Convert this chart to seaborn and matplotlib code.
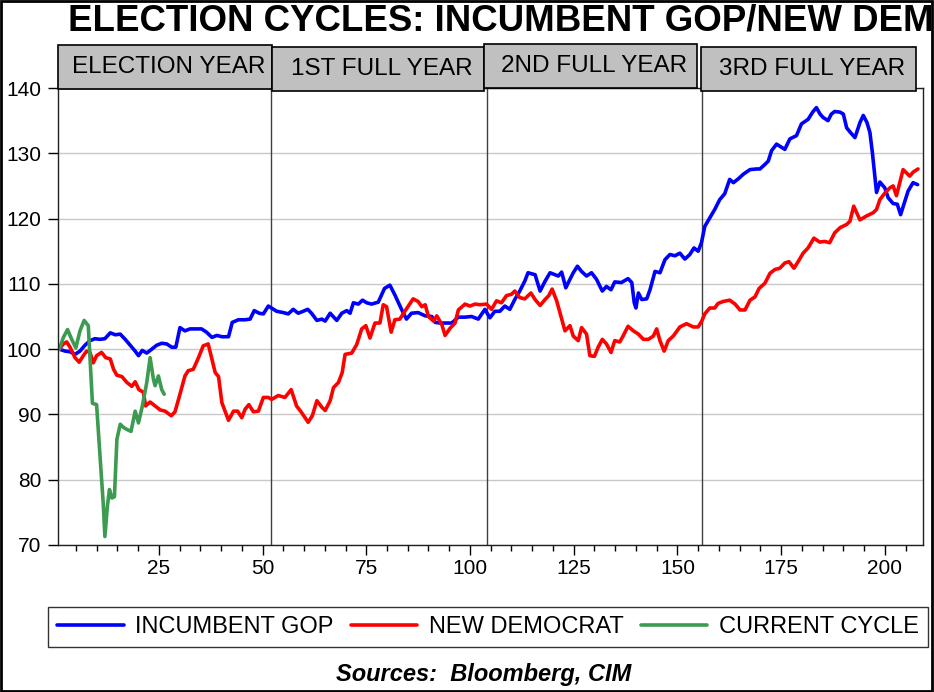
import pandas as pd
import seaborn as sns
import matplotlib.pyplot as plt
from matplotlib.patches import Rectangle
from matplotlib.ticker import MultipleLocator

# weeks into the cycle (x) and index level (y)
gop_x = [1, 2.4, 3.6, 4.8, 6, 7.2, 8.4, 9.6, 10.8, 12, 13.3, 14.5, 15.7, 16.9, 18.1, 19.3, 20.1, 21, 22.1,
         23.3, 24.5, 25.7, 26.9, 28.1, 29.1, 30.1, 31.3, 32.5, 33.7, 35.3, 36.5, 37.8, 39, 40.2, 41.8, 42.7,
         44.2, 45.8, 47, 48, 49.2, 50.2, 51.4, 53.4, 55, 56.2, 57.4, 58.6, 59.8, 60.9, 61.8, 63.1, 64.3,
         65.1, 66.3, 67.9, 69.1, 70.3, 71.1, 71.9, 73.1, 74.1, 75.1, 76.3, 77.9, 79.4, 80.7, 81.9, 83.5,
         84.7, 85.9, 87.5, 89.2, 90.8, 91.6, 92.8, 94.4, 95.6, 97.2, 98.8, 100.4, 102, 103.6, 104.8, 106,
         107.2, 108.4, 109.6, 110.8, 112, 113.2, 114, 115.7, 116.9, 118.1, 119.3, 120.5, 121.3, 122.1,
         123.1, 124.1, 124.9, 125.9, 126.9, 128.1, 129.3, 130.5, 131.9, 132.9, 134, 134.9, 136.5, 138.1,
         139, 139.6, 140, 140.6, 141.4, 142.6, 143.4, 144.6, 145.8, 147, 148.2, 149.4, 150.6, 151.8, 153,
         154, 155, 155.8, 156.6, 157.8, 159, 160.2, 161.4, 162.6, 163.5, 164.7, 165.9, 167.5, 169.1,
         169.9, 171.1, 171.9, 172.7, 173.9, 175.9, 177.1, 178.7, 179.9, 181.5, 182.6, 183.5, 184.4,
         185.1, 186.3, 187.1, 187.9, 189.2, 190, 190.8, 191.7, 192.8, 194, 194.8, 195.7, 196.4, 197,
         197.6, 198, 198.8, 200, 200.8, 202, 203, 203.8, 204.6, 205.6, 206.8, 207.9]
gop_y = [100, 99.7, 99.6, 99.2, 99.7, 100.6, 101.3, 101.6, 101.5, 101.6, 102.5, 102.2, 102.3, 101.5, 100.6,
         99.7, 99, 99.8, 99.4, 100, 100.6, 100.9, 100.8, 100.3, 100.3, 103.3, 102.8, 103.1, 103.1, 103.1,
         102.6, 101.8, 102.1, 101.9, 101.9, 104.1, 104.5, 104.5, 104.6, 105.9, 105.5, 105.4, 106.6, 105.8,
         105.6, 105.4, 106.1, 105.5, 105.8, 106.1, 105.5, 104.4, 104.6, 104.3, 105.5, 104.4, 105.5, 105.9,
         105.5, 107.1, 106.9, 107.5, 107.1, 106.9, 107.2, 109.3, 109.8, 108.3, 106.1, 104.6, 105.5, 105.6,
         105.1, 105, 104.1, 104, 104, 104, 104.9, 104.9, 105, 104.6, 106.1, 104.8, 105.8, 105.8, 106.6,
         106.1, 107.6, 108.9, 110.4, 111.7, 111.4, 108.9, 110.4, 111.7, 111.4, 111.2, 111.8, 109.4, 110.7,
         111.7, 112.7, 111.9, 111.2, 111.7, 110.7, 108.9, 109.6, 109.1, 110.3, 110.2, 110.8, 110.2, 107.1,
         106.3, 108.6, 107.6, 107.7, 109.1, 111.9, 111.7, 113.7, 114.5, 114.3, 114.7, 113.8, 114.5, 115.5,
         115, 116.3, 118.8, 120.1, 121.4, 122.9, 123.8, 126, 125.5, 126.1, 126.8, 127.5, 127.6, 127.6,
         128.3, 128.8, 130.4, 131.4, 130.6, 132.2, 132.7, 134.5, 135.2, 136.3, 137, 136, 135.5, 135,
         136, 136.4, 136.3, 136, 133.9, 133.2, 132.4, 134.7, 135.8, 134.7, 133.2, 130.1, 126.5, 124,
         125.6, 124.7, 123.2, 122.3, 122.2, 120.6, 122.2, 124.2, 125.5, 125.2]

dem_x = [1, 2, 2.8, 3.6, 4.8, 5.8, 6.8, 7.6, 8.4, 9.2, 10, 11.2, 12.2, 13.3, 14.1, 14.9, 16.1, 17.3, 18.5,
         19.3, 20.2, 21.3, 21.8, 22.9, 24.1, 25.3, 26.5, 28, 28.9, 30.1, 31.3, 32.1, 33.3, 34.5, 35.7, 36.9,
         37.8, 38.6, 39.4, 40.2, 41.8, 43, 44, 45, 45.8, 46.7, 47.8, 49, 50.2, 51.4, 52.2, 53.8, 55.4, 56.9,
         58.2, 59.4, 61, 62, 63.1, 64.3, 65.1, 66.3, 67.1, 68.3, 69.2, 69.9, 71.5, 72.7, 73.9, 74.9, 75.9,
         77.1, 78.3, 79.1, 79.9, 81, 81.9, 83.1, 84.3, 86.3, 87.5, 88.4, 89.2, 90, 91.2, 92, 93.2, 94, 95.2,
         96.4, 97.2, 98.8, 100, 101.2, 102.4, 104, 105.2, 106.4, 107.6, 108.8, 110, 110.8, 112, 113.2,
         114.7, 115.7, 116.9, 118.1, 119, 119.8, 120.9, 121.9, 122.9, 124.1, 124.9, 126.1, 126.9, 128.1,
         128.9, 130, 130.9, 131.9, 132.9, 134, 134.9, 136.1, 136.9, 138.1, 139.4, 140.6, 141.8, 143, 144.2,
         145, 145.8, 146.8, 147.8, 149, 150.6, 152.2, 153.8, 155, 155.8, 156.6, 157.8, 159, 159.8, 161,
         162.6, 163.9, 165.1, 166.3, 167.5, 168.7, 169.7, 171.1, 172.3, 173.5, 174.7, 175.9, 176.9, 178.1,
         179.1, 180.3, 181.5, 182.9, 184.3, 185.5, 186.7, 187.9, 189.2, 190.8, 191.6, 192.5, 194, 195.6,
         197.2, 198, 198.8, 200, 201.2, 202, 202.8, 203.6, 204.4, 205.2, 206, 206.8, 208]
dem_y = [100, 100.8, 101.1, 100.3, 98.7, 98, 99, 99.7, 99.5, 97.9, 99, 99.5, 98.7, 98.5, 96.9, 96, 95.8,
         94.9, 94.3, 95, 93.8, 93.4, 91.3, 91.9, 91.3, 90.7, 90.5, 89.8, 90.4, 93.1, 95.9, 96.7, 96.9, 98.6,
         100.5, 100.8, 98.5, 96.4, 95.8, 91.8, 89.1, 90.5, 90.5, 89.5, 90.8, 91.5, 90.4, 90.5, 92.6, 92.6,
         92.3, 92.9, 92.6, 93.8, 91.3, 90.3, 88.8, 89.8, 92.1, 91.1, 90.6, 92.1, 94.1, 94.9, 96.4, 99.2,
         99.4, 100.7, 103.1, 103.6, 101.7, 104, 104, 106.8, 106.5, 102.6, 104.5, 104.6, 105.8, 107.7, 107.3,
         106.5, 106.8, 105, 104.3, 105.1, 103.8, 102.1, 103.2, 104, 106, 106.9, 106.6, 106.9, 106.8, 106.9,
         106.1, 107.4, 107.1, 108.2, 108.4, 108.9, 107.9, 107.7, 108.6, 107.6, 106.7, 107.6, 108.2, 109.2,
         107.4, 105.1, 102.8, 103.6, 102, 101.3, 103.3, 102.3, 99, 98.9, 100.3, 101.5, 100.8, 99.5, 101.3,
         101.1, 102, 103.5, 102.8, 102.3, 101.5, 101.5, 102, 103.1, 101.3, 99.7, 101.3, 102, 103.4, 103.9,
         103.4, 103.4, 104.2, 105.4, 106.3, 106.3, 107, 107.3, 107.5, 106.9, 106, 106, 107.5, 108, 109.3,
         110.1, 111.6, 112.2, 112.4, 113.2, 113.4, 112.4, 113.4, 114.7, 115.5, 117, 116.4, 116.5, 116.3,
         117.8, 118.6, 119.1, 119.6, 121.9, 119.8, 120.4, 120.9, 121.4, 122.9, 123.9, 124.7, 125, 123.5,
         125.5, 127.5, 127, 126.5, 127.1, 127.6]

cur_x = [1, 2, 3, 4, 5, 6, 7, 8, 9, 10, 11, 11.6, 12, 12.6, 13.1, 13.7, 14.3, 14.9, 15.7, 16.5, 17.3,
         18.3, 19.3, 20.1, 21, 22.1, 22.9, 23.7, 24.1, 24.9, 25.7, 26.3]
cur_y = [100, 101.8, 103, 101.5, 100.2, 102.8, 104.4, 103.6, 91.7, 91.5, 82, 76.4, 71.3, 75.9, 78.5,
         77.2, 77.4, 86.2, 88.5, 88, 87.7, 87.4, 90.5, 88.7, 91.2, 94.9, 98.7, 95.4, 94.4, 95.9, 93.8, 93.1]

year_breaks = [52, 104, 156]
year_labels = ['ELECTION YEAR', '1ST FULL YEAR', '2ND FULL YEAR', '3RD FULL YEAR']

gop = pd.DataFrame({'week': gop_x, 'value': gop_y})
dem = pd.DataFrame({'week': dem_x, 'value': dem_y})
cur = pd.DataFrame({'week': cur_x, 'value': cur_y})

sns.set_style('white')
plt.rcParams['font.family'] = ['Liberation Sans', 'DejaVu Sans']
plt.rcParams['text.color'] = 'black'
plt.rcParams['xtick.color'] = 'black'
plt.rcParams['ytick.color'] = 'black'

W, H = 934, 692
fig = plt.figure(figsize=(W / 100, H / 100), dpi=100)
ax = fig.add_axes([58 / W, 1 - 545 / H, (923 - 58) / W, (545 - 88) / H])

for yv in range(70, 141, 10):
    ax.axhline(yv, color='#c8c8c8', lw=1, zorder=0)
for xb in year_breaks:
    ax.axvline(xb, color='#404040', lw=1, zorder=1)

sns.lineplot(data=gop, x='week', y='value', color='#0000ff', lw=2.6, label='INCUMBENT GOP', ax=ax)
sns.lineplot(data=dem, x='week', y='value', color='#ff0000', lw=2.6, label='NEW DEMOCRAT', ax=ax)
sns.lineplot(data=cur, x='week', y='value', color='#3c9b50', lw=2.6, label='CURRENT CYCLE', ax=ax)

ax.set_xlim(0.7, 209.2)
ax.set_ylim(70, 140)
ax.set_xlabel('')
ax.set_ylabel('')
ax.xaxis.set_minor_locator(MultipleLocator(5))
ax.set_xticks([25, 50, 75, 100, 125, 150, 175, 200])
ax.set_yticks(range(70, 141, 10))
ax.tick_params(axis='both', which='major', direction='out', length=7, width=1, color='black',
               labelsize=15, pad=3)
ax.tick_params(axis='y', pad=5)
ax.tick_params(axis='x', which='minor', direction='out', length=4, width=1, color='black', bottom=True)
ax.tick_params(axis='x', bottom=True)
ax.tick_params(axis='y', left=True)
for s in ax.spines.values():
    s.set_color('#202020')
    s.set_linewidth(1)
ax.get_legend().remove()

# header boxes above the plot
boxes = [(58, 45, 272, 89), (272, 47, 484, 91), (484, 44, 697, 88), (701, 47, 916, 91)]
for (l, t, r, b), lab in zip(boxes, year_labels):
    fig.patches.append(Rectangle((l / W, 1 - b / H), (r - l) / W, (b - t) / H, transform=fig.transFigure,
                                 facecolor='#c0c0c0', edgecolor='black', lw=1.2, zorder=5))
    fig.text((l + r) / 2 / W + 0.004, 1 - (t + b) / 2 / H, lab, ha='center', va='center',
             fontsize=17.5, zorder=6)

fig.text(68 / W, 1 - 21 / H, 'ELECTION CYCLES: INCUMBENT GOP/NEW DEM', ha='left', va='center',
         fontsize=26.4, fontweight='bold')

handles, labels = ax.get_legend_handles_labels()
leg = fig.legend(handles, labels, loc='center', ncol=3, mode='expand',
                 bbox_to_anchor=(48 / W, 1 - 645 / H, 880 / W, 36 / H), fontsize=17,
                 frameon=True, fancybox=False, edgecolor='black', handlelength=2.8,
                 handletextpad=0.5, borderaxespad=0)
leg.get_frame().set_linewidth(1)
for ln in leg.get_lines():
    ln.set_linewidth(2.6)

fig.text(484 / W, 1 - 675 / H, 'Sources:  Bloomberg, CIM', ha='center', va='center', fontsize=17,
         fontweight='bold', fontstyle='italic')

fig.patches.append(Rectangle((0.001, 0.001), 0.997, 0.997, transform=fig.transFigure, facecolor='none',
                             edgecolor='black', lw=2))

fig.savefig('out.png', dpi=100)
